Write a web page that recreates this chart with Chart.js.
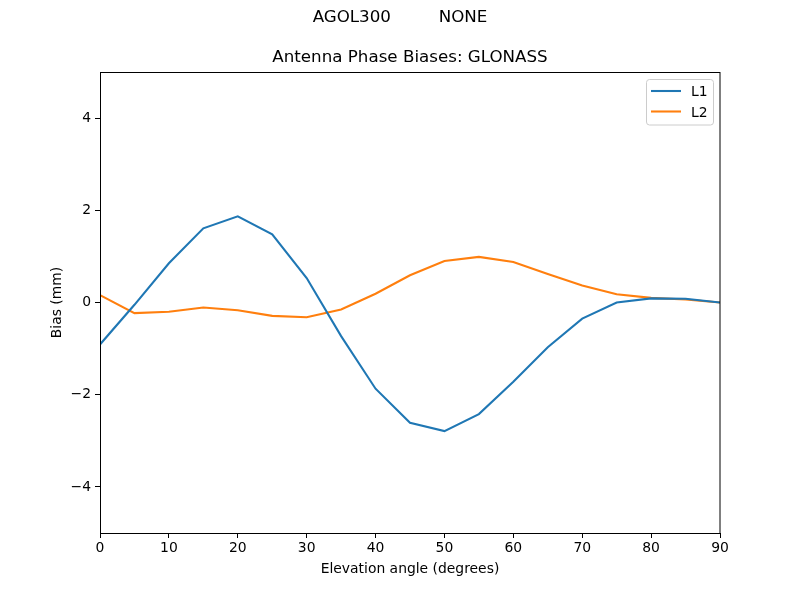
<!DOCTYPE html>
<html>
<head>
<meta charset="utf-8">
<script src="https://cdn.jsdelivr.net/npm/chart.js@4/dist/chart.umd.min.js"></script>
<style>
  body { margin: 0; background: #fff; }
  #wrap { width: 800px; height: 600px; }
</style>
</head>
<body>
<div id="wrap"><canvas id="myChart" width="800" height="600"></canvas></div>
<script>
// elevation angles (degrees)
var elevation = [0, 5, 10, 15, 20, 25, 30, 35, 40, 45, 50, 55, 60, 65, 70, 75, 80, 85, 90];
// bias values (mm)
var l1Bias = [-0.91, -0.05, 0.85, 1.61, 1.87, 1.48, 0.53, -0.73, -1.87, -2.61, -2.79, -2.42, -1.72, -0.97, -0.35, 0.0, 0.09, 0.08, 0.0];
var l2Bias = [0.16, -0.23, -0.2, -0.11, -0.17, -0.29, -0.32, -0.15, 0.19, 0.59, 0.9, 0.99, 0.88, 0.62, 0.37, 0.18, 0.1, 0.065, 0.0];
var yTicks = [-4, -2, 0, 2, 4];
var seriesNames = ['L1', 'L2'];
var seriesColors = ['#1f77b4', '#ff7f0e'];

var FONT = 'DejaVu Sans';

function toPoints(ys) {
    return elevation.map(function (x, i) { return { x: x, y: ys[i] }; });
}

// draws the frame, the figure titles and the boxed legend, matplotlib style
var decor = {
    id: 'decor',
    afterDraw: function (chart) {
        var c = chart.ctx, a = chart.chartArea;
        c.save();
        c.strokeStyle = '#000';
        c.lineWidth = 1;
        c.strokeRect(Math.round(a.left) + 0.5, Math.round(a.top) + 0.5,
            Math.round(a.right - a.left) - 1 + 0.5, Math.round(a.bottom - a.top));

        c.fillStyle = '#000';
        c.textAlign = 'center';
        c.textBaseline = 'middle';
        c.font = '16.7px "' + FONT + '"';
        c.fillText('AGOL300         NONE', 400, 18);
        c.fillText('Antenna Phase Biases: GLONASS', (a.left + a.right) / 2, 58);

        // legend
        var bx = 646.5, by = 79.5, bw = 67, bh = 45.5, r = 3;
        c.beginPath();
        c.moveTo(bx + r, by);
        c.arcTo(bx + bw, by, bx + bw, by + bh, r);
        c.arcTo(bx + bw, by + bh, bx, by + bh, r);
        c.arcTo(bx, by + bh, bx, by, r);
        c.arcTo(bx, by, bx + bw, by, r);
        c.closePath();
        c.fillStyle = 'rgba(255,255,255,0.8)';
        c.fill();
        c.strokeStyle = '#cccccc';
        c.stroke();
        c.font = '13.9px "' + FONT + '"';
        c.textAlign = 'left';
        chart.data.datasets.forEach(function (ds, i) {
            var ly = 91 + i * 20.5;
            c.strokeStyle = ds.borderColor;
            c.lineWidth = 2.08;
            c.beginPath();
            c.moveTo(651, ly);
            c.lineTo(681, ly);
            c.stroke();
            c.fillStyle = '#000';
            c.fillText(ds.label, 691, ly + 1.5);
        });
        c.restore();
    }
};

var ctx = document.getElementById('myChart').getContext('2d');
new Chart(ctx, {
    type: 'line',
    data: {
        datasets: [
            { label: seriesNames[0], data: toPoints(l1Bias), borderColor: seriesColors[0] },
            { label: seriesNames[1], data: toPoints(l2Bias), borderColor: seriesColors[1] }
        ]
    },
    options: {
        responsive: false,
        animation: false,
        devicePixelRatio: 1,
        layout: { padding: { top: 72, right: 80, left: 0, bottom: 0 } },
        elements: {
            line: { borderWidth: 2.08, tension: 0, fill: false },
            point: { radius: 0 }
        },
        plugins: {
            legend: { display: false },
            title: { display: false },
            tooltip: { enabled: false }
        },
        scales: {
            x: {
                type: 'linear',
                min: 0,
                max: 90,
                ticks: { stepSize: 10, color: '#000', padding: 2, font: { family: FONT, size: 13.9 } },
                grid: { drawOnChartArea: false, tickLength: 5, tickColor: '#000', tickWidth: 1 },
                border: { display: false },
                title: {
                    display: true, text: 'Elevation angle (degrees)', color: '#000',
                    font: { family: FONT, size: 13.9 }, padding: { top: 0, bottom: 22.6 }
                },
                afterFit: function (scale) { scale.height = 67; }
            },
            y: {
                min: -5,
                max: 5,
                afterBuildTicks: function (scale) {
                    scale.ticks = yTicks.map(function (v) { return { value: v }; });
                },
                ticks: {
                    color: '#000', padding: 4, font: { family: FONT, size: 13.9 },
                    callback: function (v) { return String(v).replace('-', '\u2212'); }
                },
                grid: { drawOnChartArea: false, tickLength: 5, tickColor: '#000', tickWidth: 1 },
                border: { display: false },
                title: {
                    display: true, text: 'Bias (mm)', color: '#000',
                    font: { family: FONT, size: 13.9 }, padding: { top: 48.6, bottom: 0 }
                },
                afterFit: function (scale) { scale.width = 100; }
            }
        }
    },
    plugins: [decor]
});
</script>
</body>
</html>
